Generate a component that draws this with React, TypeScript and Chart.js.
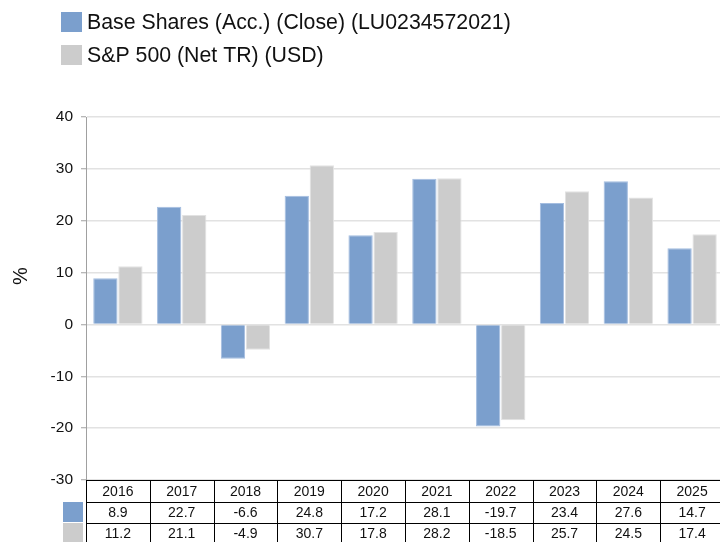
import { useEffect, useRef } from 'react';
import { Chart, registerables } from 'chart.js';

Chart.register(...registerables);

const FONT = '"Liberation Sans", Arial, Helvetica, sans-serif';

const categories = ['2016', '2017', '2018', '2019', '2020', '2021', '2022', '2023', '2024', '2025'];
const seriesNames = ['Base Shares (Acc.) (Close) (LU0234572021)', 'S&P 500 (Net TR) (USD)'];
const baseShares = [8.9, 22.7, -6.6, 24.8, 17.2, 28.1, -19.7, 23.4, 27.6, 14.7];
const sp500 = [11.2, 21.1, -4.9, 30.7, 17.8, 28.2, -18.5, 25.7, 24.5, 17.4];
const fillColors = ['#7b9fcd', '#cccccc'];
const edgeColors = ['#a4bde0', '#e2e2e2'];
const yAxisTitle = '%';

const overlayPlugin = {
  id: 'overlay',
  afterDraw(chart: any) {
    const { ctx, chartArea, scales } = chart;
    const xs = scales.x;
    const left = chartArea.left;
    const right = chartArea.right;
    const colW = (right - left) / categories.length;
    const top = chartArea.bottom;
    const rowH = [21.5, 21, 21];
    const rows = [categories, baseShares.map((v) => v.toFixed(1)), sp500.map((v) => v.toFixed(1))];

    ctx.save();
    // legend
    ctx.font = `21.3px ${FONT}`;
    ctx.textBaseline = 'middle';
    ctx.textAlign = 'left';
    seriesNames.forEach((name, i) => {
      const y = 12 + i * 33;
      ctx.fillStyle = fillColors[i];
      ctx.fillRect(61, y, 21, 20);
      ctx.fillStyle = '#111';
      ctx.fillText(name, 87, y + 11);
    });

    // y axis title
    ctx.save();
    ctx.translate(21, 276);
    ctx.rotate(-Math.PI / 2);
    ctx.font = `20px ${FONT}`;
    ctx.textAlign = 'center';
    ctx.textBaseline = 'middle';
    ctx.fillStyle = '#111';
    ctx.fillText(yAxisTitle, 0, 0);
    ctx.restore();

    // table
    ctx.fillStyle = '#ffffff';
    ctx.fillRect(left, top, right - left, 542 - top);
    let y = top;
    const rowTops: number[] = [];
    rowH.forEach((h) => {
      rowTops.push(y);
      y += h;
    });
    const bottom = y;

    // swatches
    ctx.fillStyle = fillColors[0];
    ctx.fillRect(63, rowTops[1] + 0.5, 20, rowH[1] - 1);
    ctx.fillStyle = fillColors[1];
    ctx.fillRect(63, rowTops[2] + 0.5, 20, rowH[2] - 1);

    ctx.strokeStyle = '#000';
    ctx.lineWidth = 1;
    ctx.beginPath();
    rowTops.concat([bottom]).forEach((ry) => {
      const yy = Math.round(ry) + 0.5;
      ctx.moveTo(left, yy);
      ctx.lineTo(right, yy);
    });
    for (let i = 0; i <= categories.length; i++) {
      const xx = Math.round(left + i * colW) + 0.5;
      ctx.moveTo(xx, top);
      ctx.lineTo(xx, bottom);
    }
    ctx.stroke();

    ctx.font = `14px ${FONT}`;
    ctx.textAlign = 'center';
    ctx.textBaseline = 'middle';
    ctx.fillStyle = '#111';
    rows.forEach((row, r) => {
      row.forEach((txt, i) => {
        const cx = xs.getPixelForValue(i);
        ctx.fillText(txt, cx, rowTops[r] + rowH[r] / 2 + 1);
      });
    });
    ctx.restore();
  },
};

export default function App() {
  const ref = useRef<HTMLCanvasElement | null>(null);

  useEffect(() => {
    if (!ref.current) return;
    const chart = new Chart(ref.current, {
      type: 'bar',
      data: {
        labels: categories,
        datasets: [
          {
            label: seriesNames[0],
            data: baseShares,
            backgroundColor: fillColors[0],
            borderColor: edgeColors[0],
            borderWidth: 1,
            categoryPercentage: 0.785,
            barPercentage: 0.97,
          },
          {
            label: seriesNames[1],
            data: sp500,
            backgroundColor: fillColors[1],
            borderColor: edgeColors[1],
            borderWidth: 1,
            categoryPercentage: 0.785,
            barPercentage: 0.97,
          },
        ],
      },
      options: {
        responsive: false,
        animation: false,
        devicePixelRatio: 1,
        layout: { padding: { top: 117, bottom: 62, left: 0, right: 0 } },
        plugins: {
          legend: { display: false },
          tooltip: { enabled: false },
          title: { display: false },
        },
        scales: {
          x: {
            display: false,
          },
          y: {
            min: -30,
            max: 40,
            ticks: {
              stepSize: 10,
              padding: 8,
              color: '#111',
              font: { family: FONT, size: 15.5 },
            },
            grid: {
              color: '#e2e2e2',
              lineWidth: 1.5,
              tickColor: '#a0a0a0',
              tickLength: 5,
              tickWidth: 1,
            },
            border: { display: true, color: '#a0a0a0', width: 1 },
            afterFit: (scale: any) => {
              scale.width = 86;
            },
          },
        },
      },
      plugins: [overlayPlugin],
    });
    return () => chart.destroy();
  }, []);

  return (
    <div style={{ position: 'absolute', left: 0, top: 0, width: 720, height: 542, overflow: 'hidden', background: '#fff' }}>
      <canvas ref={ref} width={724} height={542} style={{ display: 'block', width: 724, height: 542 }} />
    </div>
  );
}
